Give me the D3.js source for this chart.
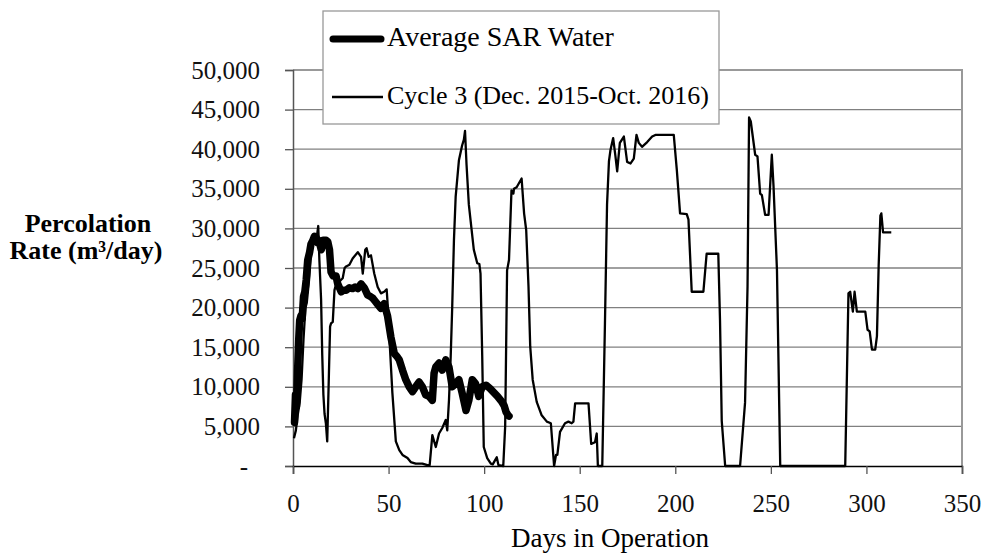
<!DOCTYPE html>
<html>
<head>
<meta charset="utf-8">
<script src="https://cdn.jsdelivr.net/npm/d3@7"></script>
<style>
  html, body { margin: 0; padding: 0; background: #fff; }
  svg { display: block; }
</style>
</head>
<body>
<svg id="chart" width="983" height="557"></svg>
<script>
// ---- Data ----
const avgDay = [0.8,1.3,1.8,2.4,3.0,3.5,4.2,4.8,5.5,6.2,6.9,7.7,8.7,9.4,10.4,11.2,12.0,12.9,13.5,14.8,15.8,17.3,18.2,19.1,19.9,21.0,22.5,23.4,25.2,26.5,27.8,29.5,31.2,32.5,33.9,35.6,37.3,39.0,40.5,41.7,43.0,44.3,46.0,47.7,49.5,51.2,53.0,54.5,55.6,57.3,59.0,60.8,62.5,64.2,66.0,67.7,69.4,71.2,72.9,73.8,74.7,76.4,78.1,79.9,81.6,83.3,85.1,86.8,88.5,90.5,92.0,93.8,95.5,97.2,99.0,101.0,103.0,105.0,107.0,109.0,110.5,111.5,112.5,113.0];
const avgRate = [5500,9000,7500,12000,16000,18400,19000,18600,21400,22000,23500,26000,27000,28000,28500,29000,28900,28200,28500,27300,28500,28500,28300,27300,24500,24000,24000,23000,22000,22200,22200,22500,22400,22600,22400,23000,22500,21600,21400,21200,20800,20400,19900,20500,18900,16300,14200,13800,13400,12100,10900,10000,9400,10000,10600,10000,9000,8800,8300,11700,12500,13000,12100,13400,12500,10000,10400,10900,9200,7000,8300,10900,10400,8800,10000,10200,9800,9300,8800,8200,7600,6800,6400,6300];

const cycDay = [0.5,1.5,2.5,3.5,4.5,5.5,6.5,7.2,8.4,9.5,10.5,11.5,12.5,13.2,13.8,14.7,15.3,15.9,16.5,17.2,17.9,18.8,19.4,19.9,20.8,21.7,22.5,24.3,26.0,27.0,27.8,29.5,31.2,33.9,35.6,36.5,37.8,38.5,39.6,40.8,42.5,44.3,46.0,47.7,49.0,49.5,50.3,52.0,53.8,55.6,57.3,59.9,61.6,64.2,67.7,70.3,71.5,72.9,74.7,76.4,78.1,79.9,80.7,81.6,82.5,83.3,84.2,85.1,86.8,88.5,89.4,90.0,90.8,92.0,92.9,94.6,96.4,97.5,98.1,99.0,99.8,101.6,103.5,104.5,105.9,106.6,107.5,110.0,111.0,112.0,113.0,114.3,115.3,115.6,117.0,119.6,120.9,122.0,123.2,124.1,125.4,127.5,130.1,132.8,134.9,136.6,137.6,138.3,139.7,142.3,144.1,145.8,146.7,147.6,150.2,154.6,156.0,158.0,158.9,159.5,161.8,163.2,164.3,165.3,166.1,167.5,168.7,169.6,171.0,173.1,174.8,176.6,178.3,179.7,180.9,182.6,185.3,187.9,189.6,199.2,200.8,202.5,206.0,206.9,208.6,214.7,216.4,222.5,223.4,224.3,226.1,233.9,236.5,237.8,238.6,239.5,241.8,243.0,244.4,245.3,247.0,248.8,250.5,251.4,253.2,254.9,288.9,290.6,291.5,292.9,293.8,295.0,299.4,300.6,301.7,302.9,304.6,305.5,306.4,307.3,307.8,308.7,313.0];
const cycRate = [3500,4500,6500,8000,11000,16000,20000,20600,23500,27000,28000,28500,29000,30300,26000,21000,14000,9000,6600,5400,3100,11700,17600,18000,18200,22200,22900,23300,23700,25000,25200,25400,26200,27000,26400,24300,27300,27500,26400,26600,24300,22600,21800,22000,22300,20500,16800,9200,3100,2000,1400,1000,500,300,300,100,100,3900,2400,4100,4800,5800,4500,8300,13800,20100,28500,34000,38600,40500,41200,42300,38000,33000,31000,27300,25600,25500,24300,13800,2400,1000,300,200,800,1100,100,0,5000,24700,26000,34800,34400,35000,35200,36300,31900,29800,22700,15100,10900,8100,6400,5600,5400,0,1400,1400,4300,5400,5600,5400,5600,7900,7900,7900,2800,3000,4100,0,0,18000,33000,38500,39900,41400,39100,37200,40800,41600,38400,38200,38800,41800,40800,40300,40900,41600,41800,41800,37400,31900,31800,31100,22000,22000,26800,26800,18400,5700,0,0,8000,22700,44000,43500,39300,39100,34400,34200,31700,31700,39300,35300,24700,0,0,21800,22000,19500,22000,19500,19500,17200,17000,14700,14700,16400,25300,31600,31900,29500,29500];

const xTicks = [0,50,100,150,200,250,300,350];
const yTicks = [0,5000,10000,15000,20000,25000,30000,35000,40000,45000,50000];
const seriesNames = ["Average SAR Water", "Cycle 3 (Dec. 2015-Oct. 2016)"];
const FONT = '"Liberation Serif", "Times New Roman", serif';

// ---- Layout ----
const svg = d3.select("#chart");
const x = d3.scaleLinear().domain([0, 350]).range([293, 962]);
const y = d3.scaleLinear().domain([0, 50000]).range([466, 70]);

// gridlines
svg.append("g").selectAll("line")
  .data(yTicks.filter(d => d > 0 && d < 50000))
  .join("line")
  .attr("x1", x(0)).attr("x2", x(350))
  .attr("y1", d => y(d)).attr("y2", d => y(d))
  .attr("stroke", "#808080").attr("stroke-width", 1.3);

// plot frame top/right
svg.append("path")
  .attr("d", `M${x(0)},${y(50000)}H${x(350)}V${y(0)}`)
  .attr("fill", "none").attr("stroke", "#999").attr("stroke-width", 2);

// Y axis
const yAxis = d3.axisLeft(y).tickValues(yTicks).tickSize(8).tickPadding(25)
  .tickFormat(d => d === 0 ? "-" : d3.format(",")(d));
const gy = svg.append("g").attr("transform", `translate(${x(0)},0)`).call(yAxis);
gy.attr("font-family", null).attr("font-size", null);
gy.select(".domain").attr("stroke", "#555").attr("stroke-width", 1.5);
gy.selectAll(".tick line").attr("stroke", "#555").attr("stroke-width", 1.3);
gy.selectAll(".tick text").style("font-family", FONT).style("font-size", "25px")
  .attr("fill", "#111");
gy.selectAll(".tick text").filter(d => d === 0).attr("x", -45);

// X axis
const xAxis = d3.axisBottom(x).tickValues(xTicks).tickSize(8).tickFormat(d3.format("d"));
const gx = svg.append("g").attr("transform", `translate(0,${y(0)})`).call(xAxis);
gx.attr("font-family", null).attr("font-size", null);
gx.select(".domain").attr("stroke", "#000").attr("stroke-width", 1.5);
gx.selectAll(".tick line").attr("stroke", "#555").attr("stroke-width", 1.3);
gx.selectAll(".tick text").style("font-family", FONT).style("font-size", "25px")
  .attr("fill", "#111").attr("y", 46).attr("dy", 0);

// Lines
const avgData = avgDay.map((d, i) => [d, avgRate[i]]);
const cycData = cycDay.map((d, i) => [d, cycRate[i]]);
const line = d3.line().x(d => x(d[0])).y(d => y(d[1]));

svg.append("path").datum(cycData).attr("d", line)
  .attr("fill", "none").attr("stroke", "#000").attr("stroke-width", 2.3)
  .attr("stroke-linejoin", "round");
svg.append("path").datum(avgData).attr("d", line)
  .attr("fill", "none").attr("stroke", "#000").attr("stroke-width", 7.5)
  .attr("stroke-linejoin", "round").attr("stroke-linecap", "round");

// Axis titles
svg.append("text").attr("x", 88).attr("y", 232).attr("text-anchor", "middle")
  .style("font-family", FONT).style("font-size", "26px").style("font-weight", "bold")
  .text("Percolation");
svg.append("text").attr("x", 86).attr("y", 259).attr("text-anchor", "middle")
  .style("font-family", FONT).style("font-size", "26px").style("font-weight", "bold")
  .text("Rate (m³/day)");

svg.append("text").attr("x", 610).attr("y", 547).attr("text-anchor", "middle")
  .style("font-family", FONT).style("font-size", "27px").text("Days in Operation");

// Legend
const lg = svg.append("g");
lg.append("rect").attr("x", 323).attr("y", 11).attr("width", 396).attr("height", 113)
  .attr("fill", "#fff").attr("stroke", "#999").attr("stroke-width", 1.3);
lg.append("line").attr("x1", 333).attr("x2", 381).attr("y1", 39).attr("y2", 39)
  .attr("stroke", "#000").attr("stroke-width", 7).attr("stroke-linecap", "round");
lg.append("line").attr("x1", 332).attr("x2", 383).attr("y1", 97).attr("y2", 97)
  .attr("stroke", "#000").attr("stroke-width", 2.3);
lg.append("text").attr("x", 387).attr("y", 46)
  .style("font-family", FONT).style("font-size", "28px").text(seriesNames[0]);
lg.append("text").attr("x", 387).attr("y", 104)
  .style("font-family", FONT).style("font-size", "26px").text(seriesNames[1]);
</script>
</body>
</html>
